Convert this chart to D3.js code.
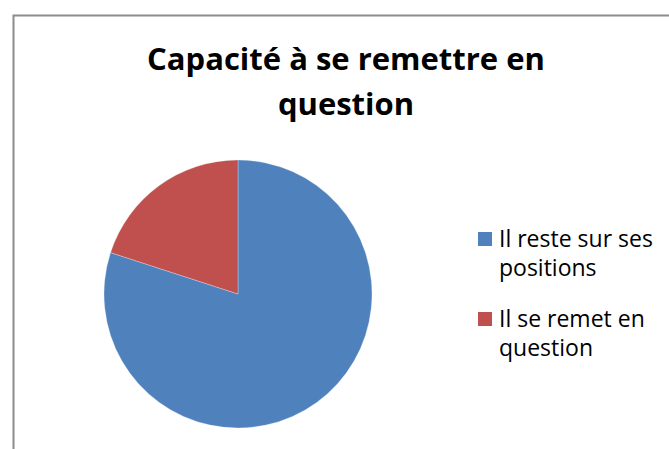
<!DOCTYPE html>
<html>
<head>
<meta charset="utf-8">
<script src="https://cdn.jsdelivr.net/npm/d3@7"></script>
<style>
  body { margin: 0; background: #fff; }
  svg { display: block; }
  text { font-family: 'Open Sans', 'Noto Sans', sans-serif; }
</style>
</head>
<body>
<svg class="pie-chart" width="669" height="449"></svg>
<script>
const categories = ['Il reste sur ses positions', 'Il se remet en question'];
const values = [80, 20];
const colors = ['#4f81bd', '#c0504d'];
const legendLines = [['Il reste sur ses', 'positions'], ['Il se remet en', 'question']];
const titleLines = ['Capacité à se remettre en', 'question'];

const svg = d3.select('.pie-chart');

// chart frame (runs off the right and bottom edge)
svg.append('path')
    .attr('d', 'M13.5,449 V15.5 H669')
    .attr('fill', 'none')
    .attr('stroke', '#8c8c8c')
    .attr('stroke-width', 2);

const title = svg.append('text')
    .attr('text-anchor', 'middle')
    .attr('font-weight', 'bold')
    .attr('font-size', 31)
    .attr('fill', '#000');

title.selectAll('tspan')
    .data(titleLines)
    .enter()
    .append('tspan')
    .attr('x', 346)
    .attr('y', (d, i) => 70 + i * 45)
    .text(d => d);

const data = categories.map((c, i) => ({ name: c, value: values[i], color: colors[i] }));

const pie = d3.pie()
    .sort(null)
    .value(d => d.value);

const arc = d3.arc()
    .innerRadius(0)
    .outerRadius(134);

const gPie = svg.append('g')
    .attr('transform', 'translate(238 294)');

gPie.selectAll('path')
    .data(pie(data))
    .enter()
    .append('path')
    .attr('d', arc)
    .attr('fill', d => d.data.color)
    .attr('stroke', '#fff')
    .attr('stroke-opacity', 0.4)
    .attr('stroke-width', 0.7);

const legend = svg.append('g')
    .attr('transform', 'translate(478 232)');

const item = legend.selectAll('g')
    .data(data)
    .enter()
    .append('g')
    .attr('transform', (d, i) => `translate(0 ${i * 80})`);

item.append('rect')
    .attr('width', 14)
    .attr('height', 14)
    .attr('fill', d => d.color);

item.append('text')
    .attr('font-size', 23)
    .attr('fill', '#000')
    .selectAll('tspan')
    .data((d, i) => legendLines[i])
    .enter()
    .append('tspan')
    .attr('x', 21)
    .attr('y', (d, i) => 15 + i * 29)
    .text(d => d);
</script>
</body>
</html>
